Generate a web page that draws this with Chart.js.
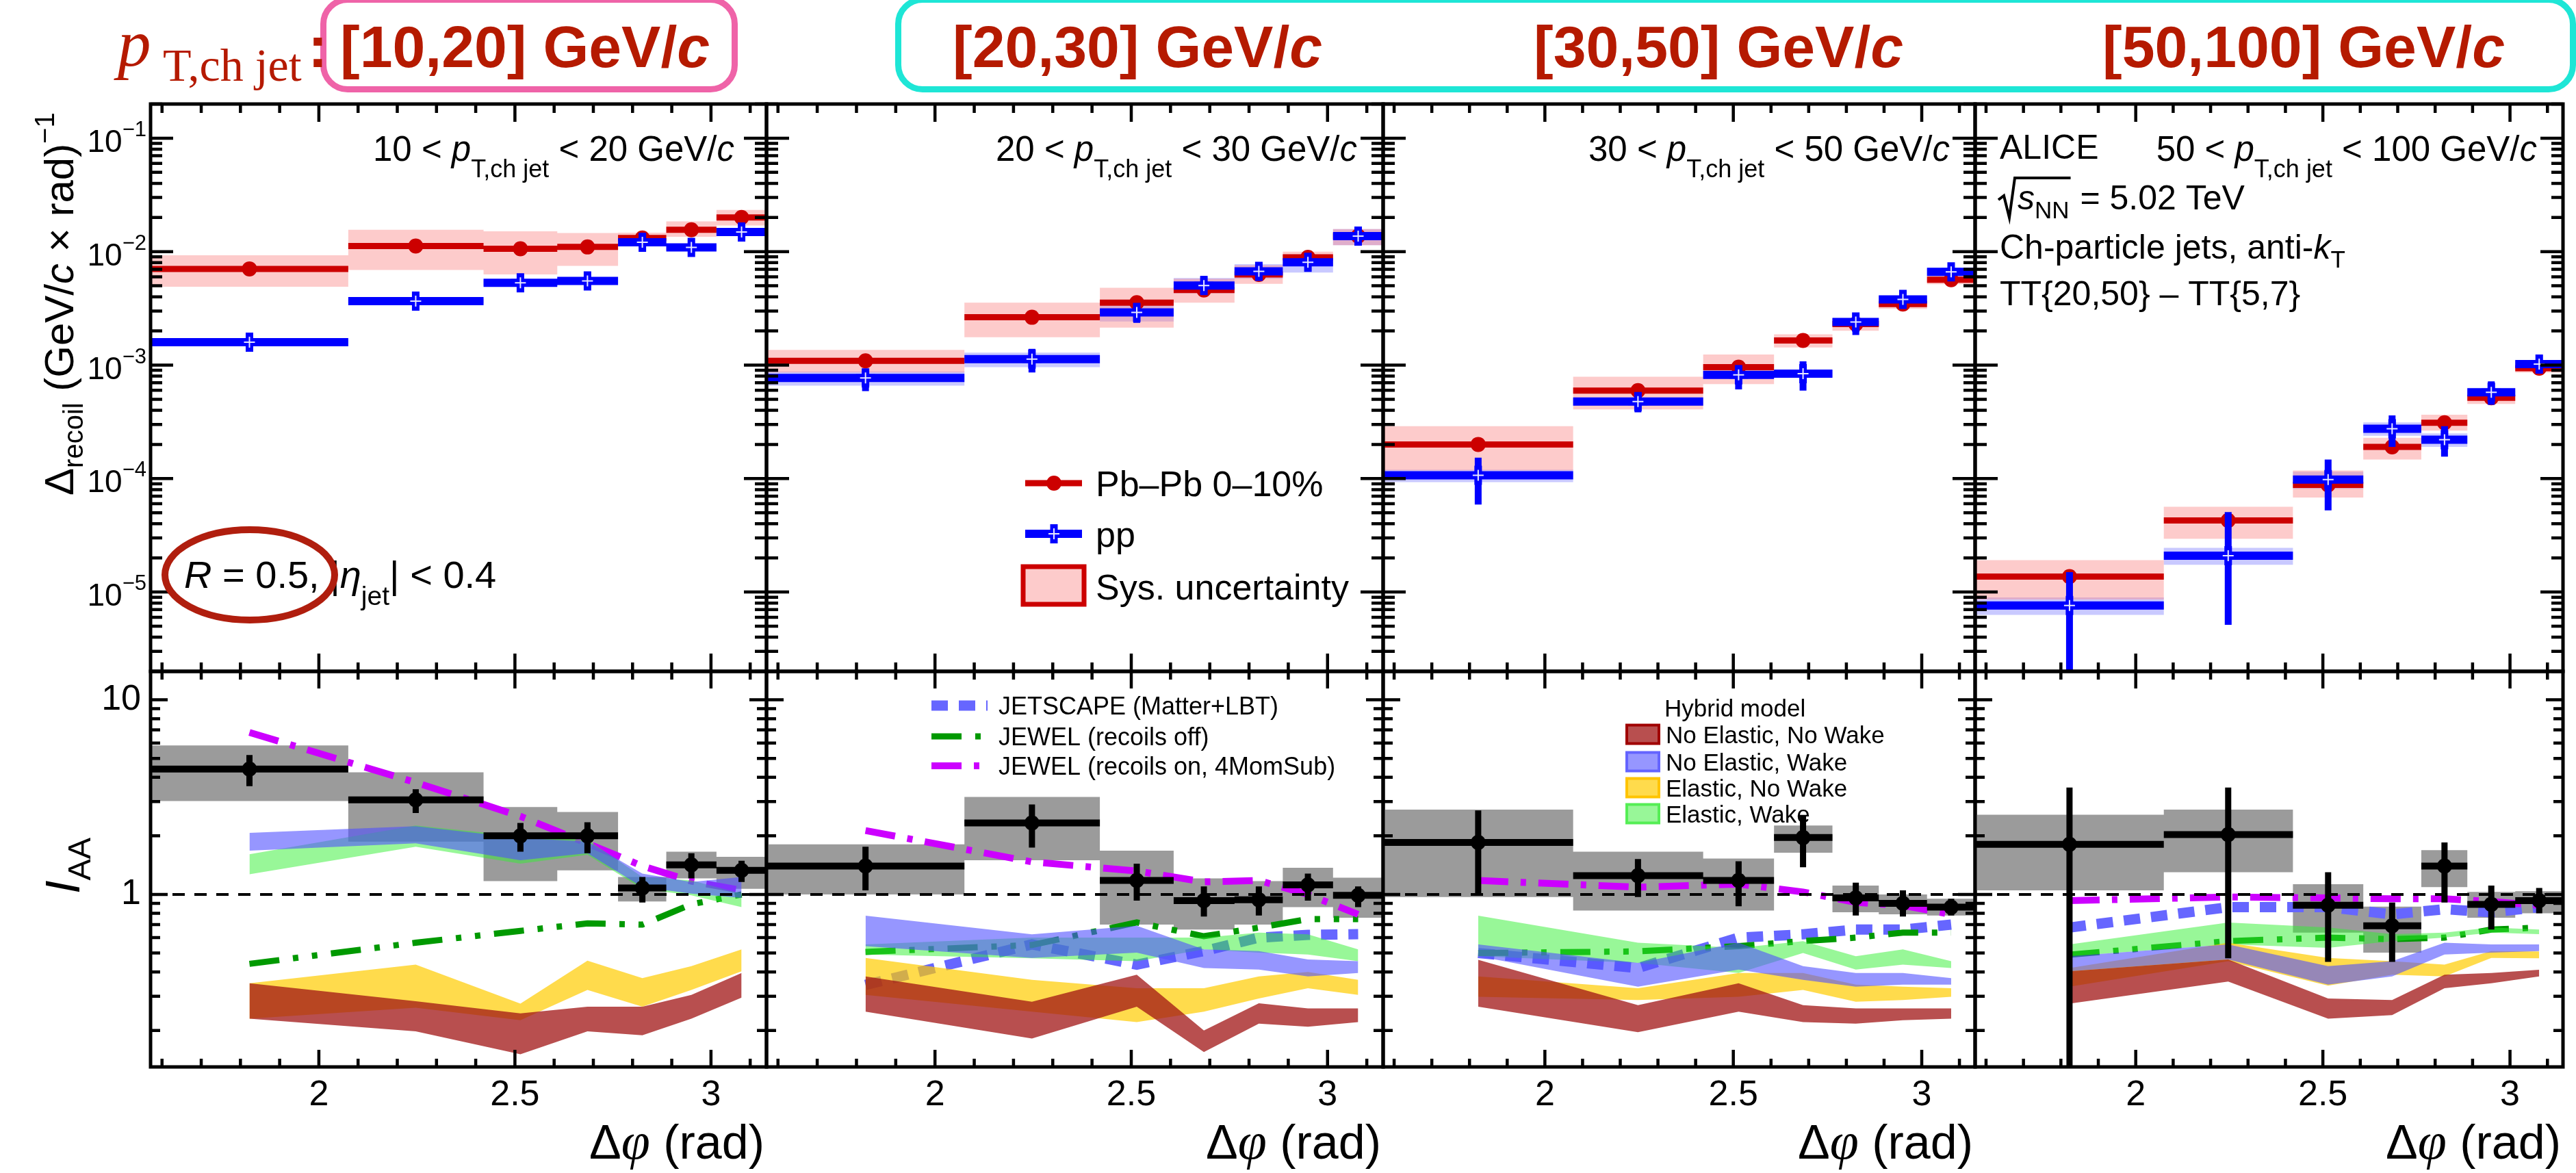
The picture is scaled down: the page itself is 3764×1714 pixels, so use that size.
<!DOCTYPE html>
<html>
<head>
<meta charset="utf-8">
<title>Recoil jet yields and I_AA vs Δφ</title>
<script src="https://cdn.jsdelivr.net/npm/chart.js@4.4.1/dist/chart.umd.min.js"></script>
<style>
  html, body { margin: 0; padding: 0; background: #fff; }
  #page { position: relative; width: 3764px; height: 1714px; overflow: hidden; background: #fff; }
  #page canvas { position: absolute; }
  .hdr { position: absolute; white-space: nowrap; line-height: 1; color: #b51a00; }
  .rbox { position: absolute; box-sizing: border-box; border-radius: 40px; }
</style>
</head>
<body>
<div id="page">
  <div class="rbox" style="left:468px; top:-5px; width:610px; height:140px; border:9px solid #ef63a8;"></div>
  <div class="rbox" style="left:1308px; top:-5px; width:2456px; height:140px; border:9px solid #1ee6d6;"></div>
</div>
<script>
const SANS = '"Liberation Sans", Arial, Helvetica, sans-serif';
const SERIF = '"Liberation Serif", "Times New Roman", serif';
const PI = Math.PI;

// ---------- data ----------
const ptLabels = ['[10,20] GeV/', '[20,30] GeV/', '[30,50] GeV/', '[50,100] GeV/'];
const ptLow = ['10', '20', '30', '50'];
const ptHigh = ['20', '30', '50', '100'];

// delta-phi bins (same for all panels)
const binLo = [1.5708, 2.075, 2.420, 2.608, 2.763, 2.886, 3.014];
const binHi = [2.075, 2.420, 2.608, 2.763, 2.886, 3.014, 3.1416];
const binMid = [1.823, 2.247, 2.514, 2.685, 2.825, 2.950, 3.078];

const xTicks = [2, 2.5, 3];
const xTickLabels = ['2', '2.5', '3'];
const xMinorTicks = [1.6, 1.7, 1.8, 1.9, 2.1, 2.2, 2.3, 2.4, 2.6, 2.7, 2.8, 2.9, 3.1];
const recoilTicks = [1e-1, 1e-2, 1e-3, 1e-4, 1e-5];
const recoilTickExp = ['\u22121', '\u22122', '\u22123', '\u22124', '\u22125'];
const iaaTicks = [1, 10];
const iaaTickLabels = ['1', '10'];
const recoilRange = [2e-6, 0.2];
const iaaRange = [0.13, 14];

// Pb-Pb 0-10%
const pbVal = [
  [7.05e-3, 1.12e-2, 1.06e-2, 1.10e-2, 1.32e-2, 1.56e-2, 2.00e-2],
  [1.09e-3, 2.64e-3, 3.55e-3, 4.60e-3, 6.30e-3, 8.90e-3, 1.37e-2],
  [2.00e-4, 5.97e-4, 9.60e-4, 1.65e-3, 2.30e-3, 3.45e-3, 5.65e-3],
  [1.37e-5, 4.27e-5, 8.80e-5, 1.90e-4, 3.10e-4, 5.15e-4, 9.40e-4]
];
const pbStatLo = [
  [6.7e-3, 1.07e-2, 1.0e-2, 1.05e-2, 1.26e-2, 1.49e-2, 1.9e-2],
  [1.03e-3, 2.5e-3, 3.35e-3, 4.35e-3, 6.0e-3, 8.5e-3, 1.31e-2],
  [1.88e-4, 5.6e-4, 9.0e-4, 1.56e-3, 2.18e-3, 3.28e-3, 5.4e-3],
  [1.25e-5, 4.0e-5, 8.2e-5, 1.78e-4, 2.95e-4, 4.9e-4, 9.0e-4]
];
const pbStatHi = [
  [7.4e-3, 1.17e-2, 1.12e-2, 1.15e-2, 1.38e-2, 1.63e-2, 2.1e-2],
  [1.15e-3, 2.8e-3, 3.75e-3, 4.85e-3, 6.6e-3, 9.3e-3, 1.43e-2],
  [2.12e-4, 6.35e-4, 1.02e-3, 1.74e-3, 2.42e-3, 3.62e-3, 5.9e-3],
  [1.5e-5, 4.55e-5, 9.4e-5, 2.02e-4, 3.25e-4, 5.4e-4, 9.8e-4]
];
const pbSysLo = [
  [4.9e-3, 6.9e-3, 6.3e-3, 7.5e-3, 1.14e-2, 1.35e-2, 1.70e-2],
  [8.6e-4, 1.76e-3, 2.14e-3, 3.55e-3, 5.2e-3, 7.6e-3, 1.14e-2],
  [1.18e-4, 4.07e-4, 6.8e-4, 1.43e-3, 2.01e-3, 3.13e-3, 5.17e-3],
  [8.6e-6, 2.95e-5, 6.8e-5, 1.47e-4, 2.65e-4, 4.55e-4, 8.6e-4]
];
const pbSysHi = [
  [9.3e-3, 1.56e-2, 1.51e-2, 1.46e-2, 1.47e-2, 1.85e-2, 2.33e-2],
  [1.36e-3, 3.55e-3, 4.8e-3, 5.78e-3, 7.6e-3, 1.0e-2, 1.58e-2],
  [2.9e-4, 7.9e-4, 1.24e-3, 1.87e-3, 2.59e-3, 3.9e-3, 6.16e-3],
  [1.91e-5, 5.65e-5, 1.18e-4, 2.29e-4, 3.65e-4, 5.97e-4, 1.04e-3]
];

// pp reference
const ppVal = [
  [1.59e-3, 3.66e-3, 5.32e-3, 5.52e-3, 1.21e-2, 1.09e-2, 1.49e-2],
  [7.7e-4, 1.13e-3, 2.91e-3, 5.03e-3, 6.7e-3, 8.05e-3, 1.37e-2],
  [1.07e-4, 4.78e-4, 8.2e-4, 8.4e-4, 2.4e-3, 3.79e-3, 6.64e-3],
  [7.6e-6, 2.09e-5, 9.8e-5, 2.75e-4, 2.2e-4, 5.75e-4, 1.02e-3]
];
const ppStatLo = [
  [1.5e-3, 3.45e-3, 5.0e-3, 5.2e-3, 1.14e-2, 1.02e-2, 1.4e-2],
  [5.9e-4, 8.6e-4, 2.36e-3, 4.2e-3, 5.6e-3, 6.8e-3, 1.14e-2],
  [5.9e-5, 3.84e-4, 6.1e-4, 5.97e-4, 1.84e-3, 3.2e-3, 5.6e-3],
  [1e-7, 5.15e-6, 5.25e-5, 1.9e-4, 1.56e-4, 4.47e-4, 8.6e-4]
];
const ppStatHi = [
  [1.7e-3, 3.9e-3, 5.65e-3, 5.85e-3, 1.28e-2, 1.16e-2, 1.58e-2],
  [9.3e-4, 1.39e-3, 3.45e-3, 6.1e-3, 7.9e-3, 9.5e-3, 1.65e-2],
  [1.53e-4, 5.75e-4, 1.0e-3, 1.08e-3, 2.65e-3, 4.3e-3, 7.6e-3],
  [1.5e-5, 5.06e-5, 1.47e-4, 3.6e-4, 2.9e-4, 7.2e-4, 1.23e-3]
];
const ppSysLo = [
  [1.52e-3, 3.5e-3, 5.05e-3, 5.25e-3, 1.15e-2, 1.03e-2, 1.41e-2],
  [6.6e-4, 9.6e-4, 2.42e-3, 4.3e-3, 5.78e-3, 6.55e-3, 1.14e-2],
  [9.3e-5, 4.4e-4, 7.6e-4, 7.8e-4, 2.2e-3, 3.5e-3, 6.1e-3],
  [6.3e-6, 1.74e-5, 8.1e-5, 2.38e-4, 1.9e-4, 5.3e-4, 9.5e-4]
];
const ppSysHi = [
  [1.67e-3, 3.85e-3, 5.6e-3, 5.8e-3, 1.27e-2, 1.15e-2, 1.57e-2],
  [8.8e-4, 1.29e-3, 3.45e-3, 5.86e-3, 7.76e-3, 9.46e-3, 1.58e-2],
  [1.2e-4, 5.2e-4, 8.9e-4, 9.0e-4, 2.6e-3, 4.1e-3, 7.2e-3],
  [8.95e-6, 2.45e-5, 1.15e-4, 3.13e-4, 2.5e-4, 6.3e-4, 1.1e-3]
];

// I_AA
const iaaVal = [
  [4.41, 3.06, 2.0, 2.0, 1.08, 1.42, 1.33],
  [1.40, 2.33, 1.18, 0.93, 0.94, 1.12, 0.99],
  [1.85, 1.25, 1.18, 1.96, 0.96, 0.90, 0.86],
  [1.81, 2.03, 0.88, 0.69, 1.40, 0.89, 0.93]
];
const iaaStatLo = [
  [3.6, 2.62, 1.66, 1.63, 0.91, 1.21, 1.16],
  [1.05, 1.74, 0.93, 0.77, 0.78, 0.93, 0.86],
  [1.0, 0.97, 0.87, 1.38, 0.78, 0.77, 0.78],
  [0.01, 0.47, 0.45, 0.45, 0.91, 0.66, 0.80]
];
const iaaStatHi = [
  [5.2, 3.47, 2.33, 2.35, 1.23, 1.63, 1.49],
  [1.76, 2.90, 1.44, 1.10, 1.10, 1.28, 1.10],
  [2.70, 1.52, 1.48, 2.55, 1.15, 1.05, 0.95],
  [3.54, 3.54, 1.30, 0.91, 1.85, 1.11, 1.08]
];
const iaaSysLo = [
  [3.02, 1.87, 1.17, 1.33, 0.92, 1.21, 1.07],
  [1.0, 1.50, 0.70, 0.66, 0.70, 0.86, 0.76],
  [0.97, 0.826, 0.826, 1.64, 0.81, 0.79, 0.78],
  [1.05, 1.30, 0.637, 0.502, 1.09, 0.76, 0.80]
];
const iaaSysHi = [
  [5.83, 4.24, 2.81, 2.65, 1.23, 1.66, 1.56],
  [1.81, 3.17, 1.68, 1.21, 1.17, 1.37, 1.22],
  [2.73, 1.66, 1.53, 2.26, 1.11, 1.0, 0.95],
  [2.57, 2.73, 1.13, 0.866, 1.69, 1.03, 1.04]
];

// model curves (at bin centres)
const jetscape = [
  null,
  [0.343, 0.554, 0.436, 0.512, 0.60, 0.62, 0.625],
  [0.50, 0.419, 0.60, 0.624, 0.66, 0.66, 0.70],
  [0.676, 0.86, 0.86, 0.79, 0.84, 0.81, 0.86]
];
const jewelOff = [
  [0.44, 0.565, 0.65, 0.71, 0.70, 0.89, 1.0],
  [0.507, 0.55, 0.718, 0.61, 0.676, 0.747, 0.747],
  [0.50, 0.51, 0.543, 0.576, 0.60, 0.637, 0.637],
  [0.49, 0.576, 0.60, 0.59, 0.60, 0.66, 0.676]
];
const jewelOn = [
  [6.8, 3.76, 2.52, 1.83, 1.40, 1.17, 1.05],
  [2.13, 1.47, 1.32, 1.16, 1.18, 1.0, 0.79],
  [1.18, 1.09, 1.13, 1.03, 0.91, 0.877, 0.79],
  [0.93, 0.97, 0.96, 0.95, 0.95, 0.92, 0.88]
];

// hybrid model bands
const hybNoElNoWakeLo = [
  [0.23, 0.198, 0.151, 0.198, 0.189, 0.23, 0.295],
  [0.25, 0.182, 0.265, 0.155, 0.217, 0.209, 0.221],
  [0.265, 0.196, 0.25, 0.221, 0.217, 0.226, 0.23],
  [0.275, 0.357, 0.23, 0.24, 0.33, 0.35, 0.379]
];
const hybNoElNoWakeHi = [
  [0.35, 0.283, 0.245, 0.265, 0.265, 0.305, 0.395],
  [0.379, 0.281, 0.387, 0.2, 0.276, 0.26, 0.26],
  [0.462, 0.27, 0.35, 0.27, 0.26, 0.26, 0.26],
  [0.403, 0.463, 0.292, 0.287, 0.387, 0.395, 0.41]
];
const hybNoElWakeLo = [
  [1.68, 1.83, 1.50, 1.63, 1.09, 1.01, 0.96],
  [0.543, 0.472, 0.502, 0.419, 0.411, 0.379, 0.395],
  [0.482, 0.336, 0.411, 0.364, 0.336, 0.344, 0.344],
  [0.403, 0.463, 0.344, 0.379, 0.491, 0.502, 0.512]
];
const hybNoElWakeHi = [
  [2.07, 2.24, 1.95, 1.87, 1.28, 1.16, 1.23],
  [0.778, 0.624, 0.69, 0.522, 0.512, 0.463, 0.454],
  [0.554, 0.445, 0.565, 0.428, 0.395, 0.395, 0.372],
  [0.482, 0.554, 0.428, 0.454, 0.565, 0.554, 0.554]
];
const hybElNoWakeLo = [
  [0.23, 0.262, 0.226, 0.323, 0.265, 0.323, 0.403],
  [0.305, 0.25, 0.221, 0.25, 0.292, 0.33, 0.305],
  [0.298, 0.287, 0.298, 0.323, 0.281, 0.287, 0.298],
  [0.336, 0.454, 0.34, 0.387, 0.379, 0.472, 0.47]
];
const hybElNoWakeHi = [
  [0.35, 0.436, 0.275, 0.457, 0.372, 0.428, 0.522],
  [0.472, 0.364, 0.33, 0.33, 0.379, 0.40, 0.364],
  [0.379, 0.33, 0.395, 0.395, 0.344, 0.336, 0.33],
  [0.419, 0.565, 0.472, 0.454, 0.436, 0.512, 0.51]
];
const hybElWakeLo = [
  [1.27, 1.76, 1.44, 1.6, 1.07, 0.99, 0.86],
  [0.491, 0.47, 0.454, 0.522, 0.502, 0.491, 0.454],
  [0.482, 0.445, 0.395, 0.5, 0.411, 0.436, 0.419],
  [0.482, 0.554, 0.532, 0.576, 0.60, 0.637, 0.625]
];
const hybElWakeHi = [
  [1.61, 2.26, 1.99, 1.91, 1.23, 1.18, 1.01],
  [0.554, 0.60, 0.60, 0.60, 0.637, 0.624, 0.522],
  [0.778, 0.565, 0.532, 0.576, 0.482, 0.522, 0.454],
  [0.554, 0.718, 0.676, 0.625, 0.637, 0.676, 0.66]
];

const modelNames = ['JETSCAPE (Matter+LBT)', 'JEWEL (recoils off)', 'JEWEL (recoils on, 4MomSub)'];
const hybridNames = ['No Elastic, No Wake', 'No Elastic, Wake', 'Elastic, No Wake', 'Elastic, Wake'];

// ---------- styles / layout ----------
const W = 3764, H = 1714;
const PANEL_X = [[220, 1120], [1120, 2021], [2021, 2886], [2886, 3745]];
const ROW_Y = [[152, 981], [981, 1559]];
const PAD = 14;
const PHI_MIN = 1.5708, PHI_MAX = 3.1416;
const rangeLabelRight = [1073, 1983, 2849, 3707];

const PB_RED = '#cc0000', PB_SYS = 'rgba(250,140,140,0.45)';
const PP_BLUE = '#0000ff', PP_SYS = 'rgba(90,90,255,0.33)';
const GREY = '#9b9b9b';
const BAND_RED = 'rgba(160,20,20,0.75)', BAND_BLUE = 'rgba(80,80,255,0.6)';
const BAND_YELLOW = 'rgba(255,204,0,0.7)', BAND_GREEN = 'rgba(50,240,50,0.5)';
const bandEdge = ['#a00000', '#6464ff', '#ffc400', '#55ee55'];
const bandFill = [BAND_RED, BAND_BLUE, BAND_YELLOW, BAND_GREEN];
const modelStyle = [
  { c: '#6666ff', w: 15, d: [24, 16] },
  { c: '#009900', w: 9, d: [44, 20, 8, 20, 8, 20] },
  { c: '#cc00ff', w: 10, d: [44, 18, 8, 18] }
];

const page = document.getElementById('page');

// ---------- header (html text) ----------
function hdrText(html, left, base, size, family, style, weight) {
  const d = document.createElement('div');
  d.className = 'hdr';
  d.innerHTML = html;
  d.style.left = left + 'px';
  d.style.fontFamily = family;
  d.style.fontSize = size + 'px';
  d.style.fontStyle = style || 'normal';
  d.style.fontWeight = weight || 'normal';
  const asc = family === SERIF ? 0.8375 : 0.8465;
  d.style.top = (base - asc * size) + 'px';
  page.appendChild(d);
}
hdrText('p', 172, 96, 97, SERIF, 'italic');
hdrText('T,ch jet', 238, 118, 68, SERIF);
hdrText(':', 450, 98, 86, SANS, 'normal', 'bold');
const ptTitleX = [497, 1392, 2241, 3072];
ptLabels.forEach((t, i) => hdrText(t + '<i>c</i>', ptTitleX[i], 98, 86, SANS, 'normal', 'bold'));

// ---------- canvas helpers ----------
function fontOf(p) {
  return (p.st || 'normal') + ' ' + (p.w || 'normal') + ' ' + p.s + 'px ' + (p.f || SANS);
}
function rich(ctx, x, y, parts, align) {
  let total = 0;
  parts.forEach(p => { ctx.font = fontOf(p); p.width = ctx.measureText(p.t).width; total += p.width; });
  let cx = align === 'right' ? x - total : (align === 'center' ? x - total / 2 : x);
  parts.forEach(p => {
    ctx.font = fontOf(p);
    ctx.fillStyle = p.c || '#000';
    ctx.fillText(p.t, cx, y + (p.dy || 0));
    cx += p.width;
  });
  return total;
}
function seg(ctx, x0, y0, x1, y1) {
  ctx.beginPath(); ctx.moveTo(x0, y0); ctx.lineTo(x1, y1); ctx.stroke();
}

// ---------- dataset builders ----------
function pts(xs, ys) { return xs.map((x, i) => ({ x: x, y: ys[i] })); }

function hBars(vals, color, width) {
  const data = [];
  vals.forEach((v, i) => { data.push({ x: binLo[i], y: v }, { x: binHi[i], y: v }, { x: binHi[i], y: null }); });
  return { data, borderColor: color, borderWidth: width, pointRadius: 0, spanGaps: false, fill: false };
}
function vBars(lo, hi, color, width) {
  const data = [];
  binMid.forEach((x, i) => { data.push({ x, y: lo[i] }, { x, y: hi[i] }, { x, y: null }); });
  return { data, borderColor: color, borderWidth: width, pointRadius: 0, spanGaps: false, fill: false };
}
function marks(vals, style) {
  return Object.assign({ data: pts(binMid, vals), showLine: false, pointHitRadius: 0, fill: false }, style);
}
function sysBox(lo, hi, color) {
  const edge = vals => pts(binLo, vals).concat([{ x: binHi[binHi.length - 1], y: vals[vals.length - 1] }]);
  const base = { stepped: 'before', borderColor: 'rgba(0,0,0,0)', borderWidth: 0, pointRadius: 0 };
  return [
    Object.assign({ data: edge(lo), fill: false }, base),
    Object.assign({ data: edge(hi), fill: '-1', backgroundColor: color }, base)
  ];
}
function band(lo, hi, color) {
  const base = { borderColor: 'rgba(0,0,0,0)', borderWidth: 0, pointRadius: 0 };
  return [
    Object.assign({ data: pts(binMid, lo), fill: false }, base),
    Object.assign({ data: pts(binMid, hi), fill: '-1', backgroundColor: color }, base)
  ];
}
function model(vals, st) {
  return { data: pts(binMid, vals), borderColor: st.c, borderWidth: st.w, borderDash: st.d, pointRadius: 0, fill: false };
}

const redDot = { pointStyle: 'circle', pointRadius: 11, pointBackgroundColor: PB_RED, pointBorderColor: PB_RED, pointBorderWidth: 0 };
const blueCross = { pointStyle: 'cross', pointRadius: 14, pointBorderColor: PP_BLUE, pointBorderWidth: 11 };
const whiteCross = { pointStyle: 'cross', pointRadius: 8, pointBorderColor: '#e8e8ff', pointBorderWidth: 2 };
const blackDot = { pointStyle: 'circle', pointRadius: 11, pointBackgroundColor: '#000', pointBorderColor: '#000', pointBorderWidth: 0 };

function topDatasets(p) {
  return [
    ...sysBox(ppSysLo[p], ppSysHi[p], PP_SYS),
    ...sysBox(pbSysLo[p], pbSysHi[p], PB_SYS),
    vBars(pbStatLo[p], pbStatHi[p], PB_RED, 8),
    hBars(pbVal[p], PB_RED, 9),
    marks(pbVal[p], redDot),
    hBars(ppVal[p], PP_BLUE, 12),
    vBars(ppStatLo[p], ppStatHi[p], PP_BLUE, 10),
    marks(ppVal[p], blueCross),
    marks(ppVal[p], whiteCross)
  ];
}
function botDatasets(p) {
  const ds = [...sysBox(iaaSysLo[p], iaaSysHi[p], GREY)];
  if (jetscape[p]) ds.push(model(jetscape[p], modelStyle[0]));
  ds.push(model(jewelOff[p], modelStyle[1]));
  ds.push(model(jewelOn[p], modelStyle[2]));
  ds.push(...band(hybElWakeLo[p], hybElWakeHi[p], BAND_GREEN));
  ds.push(...band(hybElNoWakeLo[p], hybElNoWakeHi[p], BAND_YELLOW));
  ds.push(...band(hybNoElWakeLo[p], hybNoElWakeHi[p], BAND_BLUE));
  ds.push(...band(hybNoElNoWakeLo[p], hybNoElNoWakeHi[p], BAND_RED));
  ds.push({ data: [{ x: PHI_MIN, y: 1 }, { x: PHI_MAX, y: 1 }], borderColor: '#000', borderWidth: 4, borderDash: [18, 14], pointRadius: 0, fill: false });
  ds.push(vBars(iaaStatLo[p], iaaStatHi[p], '#000', 9));
  ds.push(hBars(iaaVal[p], '#000', 10));
  ds.push(marks(iaaVal[p], blackDot));
  return ds;
}

// ---------- plugins ----------
function framePlugin(row) {
  const L = row === 0 ? { xM: 26, xm: 13, yM: 33, ym: 17 } : { xM: 25, xm: 12, yM: 25, ym: 14 };
  return {
    id: 'rootFrame',
    afterDatasetsDraw(chart) {
      const { ctx, chartArea: a } = chart;
      const xs = chart.scales.x, ys = chart.scales.y;
      ctx.save();
      ctx.strokeStyle = '#000';
      ctx.lineWidth = 4.5;
      ctx.setLineDash([]);
      ctx.beginPath();
      const xt = (v, len) => {
        const p = xs.getPixelForValue(v);
        ctx.moveTo(p, a.bottom); ctx.lineTo(p, a.bottom - len);
        ctx.moveTo(p, a.top); ctx.lineTo(p, a.top + len);
      };
      const yt = (v, len) => {
        const p = ys.getPixelForValue(v);
        ctx.moveTo(a.left, p); ctx.lineTo(a.left + len, p);
        ctx.moveTo(a.right, p); ctx.lineTo(a.right - len, p);
      };
      xTicks.forEach(v => xt(v, L.xM));
      xMinorTicks.forEach(v => xt(v, L.xm));
      const e0 = Math.floor(Math.log10(ys.min)), e1 = Math.ceil(Math.log10(ys.max));
      for (let e = e0; e <= e1; e++) {
        for (let k = 1; k <= 9; k++) {
          const v = k * Math.pow(10, e);
          if (v < ys.min || v > ys.max) continue;
          yt(v, k === 1 ? L.yM : L.ym);
        }
      }
      ctx.stroke();
      ctx.lineWidth = 5;
      ctx.strokeRect(a.left, a.top, a.right - a.left, a.bottom - a.top);
      ctx.restore();
    }
  };
}
function overlayPlugin(ox, oy, draw) {
  return {
    id: 'overlay',
    afterDraw(chart) {
      const ctx = chart.ctx;
      ctx.save();
      ctx.translate(-ox, -oy);
      ctx.textAlign = 'left';
      ctx.textBaseline = 'alphabetic';
      ctx.setLineDash([]);
      draw(ctx, chart, ox, oy);
      ctx.restore();
    }
  };
}

// ---------- overlays (page coordinates) ----------
function topOverlay(col) {
  return function (ctx, chart, ox, oy) {
    rich(ctx, rangeLabelRight[col], 235, [
      { t: ptLow[col] + ' < ', s: 51 }, { t: 'p', s: 51, st: 'italic' }, { t: 'T,ch jet', s: 36, dy: 24 },
      { t: ' < ' + ptHigh[col] + ' GeV/', s: 51 }, { t: 'c', s: 51, st: 'italic' }
    ], 'right');

    if (col === 0) {
      const ys = chart.scales.y;
      recoilTicks.forEach((v, i) => {
        const py = ys.getPixelForValue(v) + oy;
        rich(ctx, 214, py + 20, [{ t: '10', s: 46 }, { t: recoilTickExp[i], s: 31, dy: -23 }], 'right');
      });
      ctx.save();
      ctx.translate(107, 724);
      ctx.rotate(-PI / 2);
      rich(ctx, 0, 0, [
        { t: '\u0394', s: 60 }, { t: 'recoil', s: 40, dy: 14 }, { t: ' (GeV/', s: 60 }, { t: 'c', s: 60, st: 'italic' },
        { t: ' \u00d7 rad)', s: 60 }, { t: '\u22121', s: 40, dy: -28 }
      ], 'left');
      ctx.restore();
      rich(ctx, 269, 859, [
        { t: 'R', s: 56, st: 'italic' }, { t: ' = 0.5, |', s: 56 }, { t: '\u03b7', s: 56, st: 'italic' },
        { t: 'jet', s: 39, dy: 25 }, { t: '| < 0.4', s: 56 }
      ], 'left');
      ctx.strokeStyle = '#b01e0e';
      ctx.lineWidth = 10;
      ctx.beginPath();
      ctx.ellipse(365, 840, 124, 66, 0, 0, 2 * PI);
      ctx.stroke();
    }

    if (col === 1) {
      const lx0 = 1498, lx1 = 1581, lc = 1540, tx = 1601;
      ctx.strokeStyle = PB_RED; ctx.lineWidth = 9; seg(ctx, lx0, 706, lx1, 706);
      ctx.fillStyle = PB_RED; ctx.beginPath(); ctx.arc(lc, 706, 11, 0, 2 * PI); ctx.fill();
      rich(ctx, tx, 725, [{ t: 'Pb\u2013Pb 0\u201310%', s: 52 }], 'left');
      ctx.strokeStyle = PP_BLUE; ctx.lineWidth = 12; seg(ctx, lx0, 780, lx1, 780);
      ctx.lineWidth = 11; seg(ctx, lc - 14, 780, lc + 14, 780); seg(ctx, lc, 766, lc, 794);
      ctx.strokeStyle = '#e8e8ff'; ctx.lineWidth = 2; seg(ctx, lc - 8, 780, lc + 8, 780); seg(ctx, lc, 772, lc, 788);
      rich(ctx, tx, 799, [{ t: 'pp', s: 52 }], 'left');
      ctx.fillStyle = 'rgba(250,140,140,0.45)'; ctx.fillRect(1495, 828, 89, 55);
      ctx.strokeStyle = PB_RED; ctx.lineWidth = 7; ctx.strokeRect(1495, 828, 89, 55);
      rich(ctx, tx, 876, [{ t: 'Sys. uncertainty', s: 52 }], 'left');
    }

    if (col === 3) {
      rich(ctx, 2922, 232, [{ t: 'ALICE', s: 50 }], 'left');
      const sw = rich(ctx, 2948, 306, [{ t: 's', s: 50, st: 'italic' }, { t: 'NN', s: 35, dy: 13 }], 'left');
      ctx.strokeStyle = '#000'; ctx.lineWidth = 4;
      ctx.beginPath();
      ctx.moveTo(2920, 292); ctx.lineTo(2928, 286); ctx.lineTo(2936, 318); ctx.lineTo(2944, 260); ctx.lineTo(2950 + sw, 260);
      ctx.stroke();
      rich(ctx, 2950 + sw, 306, [{ t: ' = 5.02 TeV', s: 50 }], 'left');
      rich(ctx, 2922, 378, [{ t: 'Ch-particle jets, anti-', s: 50 }, { t: 'k', s: 50, st: 'italic' }, { t: 'T', s: 35, dy: 13 }], 'left');
      rich(ctx, 2922, 446, [{ t: 'TT{20,50} \u2013 TT{5,7}', s: 50 }], 'left');
    }
  };
}

function botOverlay(col) {
  return function (ctx, chart, ox, oy) {
    rich(ctx, PANEL_X[col][1] - 3, 1693, [
      { t: '\u0394', s: 70 }, { t: '\u03c6', s: 76, st: 'italic', f: SERIF }, { t: ' (rad)', s: 70 }
    ], 'right');

    if (col === 0) {
      ctx.save();
      ctx.translate(116, 1265);
      ctx.rotate(-PI / 2);
      rich(ctx, 0, 0, [{ t: 'I', s: 70, st: 'italic' }, { t: 'AA', s: 47, dy: 16 }], 'center');
      ctx.restore();
    }

    if (col === 1) {
      const rows = [1031, 1076, 1119];
      modelNames.forEach((name, i) => {
        const st = modelStyle[i];
        ctx.strokeStyle = st.c; ctx.lineWidth = st.w; ctx.setLineDash(st.d);
        seg(ctx, 1361, rows[i], 1443, rows[i]);
        ctx.setLineDash([]);
        rich(ctx, 1459, rows[i] + 13, [{ t: name, s: 36 }], 'left');
      });
    }

    if (col === 2) {
      rich(ctx, 2432, 1047, [{ t: 'Hybrid model', s: 35 }], 'left');
      const rows = [1073, 1113, 1151, 1189];
      hybridNames.forEach((name, i) => {
        ctx.fillStyle = bandFill[i]; ctx.fillRect(2377, rows[i] - 13.5, 47, 27);
        ctx.strokeStyle = bandEdge[i]; ctx.lineWidth = 4; ctx.strokeRect(2377, rows[i] - 13.5, 47, 27);
        rich(ctx, 2434, rows[i] + 13, [{ t: name, s: 35 }], 'left');
      });
    }
  };
}

// ---------- panels ----------
function noEdgePadding(s) {
  s.paddingTop = 0; s.paddingBottom = 0; s.paddingLeft = 0; s.paddingRight = 0;
}

function buildPanel(row, col, datasets, drawExtra) {
  const [x0, x1] = PANEL_X[col];
  const [y0, y1] = ROW_Y[row];
  const left = col === 0 ? 0 : x0 - PAD;
  const top = y0 - PAD;
  const right = x1 + PAD;
  const bottom = row === 1 ? H : y1 + PAD;
  const cv = document.createElement('canvas');
  cv.width = right - left;
  cv.height = bottom - top;
  cv.style.left = left + 'px';
  cv.style.top = top + 'px';
  cv.style.width = cv.width + 'px';
  cv.style.height = cv.height + 'px';
  page.appendChild(cv);

  datasets.forEach((d, i) => { d.order = datasets.length - i; d.clip = 0; });
  const showY = row === 1 && col === 0;
  const showX = row === 1;

  new Chart(cv, {
    type: 'line',
    data: { datasets },
    options: {
      responsive: false,
      maintainAspectRatio: false,
      animation: false,
      devicePixelRatio: 1,
      events: [],
      layout: {
        autoPadding: false,
        padding: { left: col === 0 ? (showY ? 0 : x0) : PAD, right: PAD, top: PAD, bottom: showX ? 0 : PAD }
      },
      plugins: { legend: { display: false }, tooltip: { enabled: false }, title: { display: false } },
      scales: {
        x: {
          type: 'linear', min: PHI_MIN, max: PHI_MAX, display: showX,
          grid: { display: false, drawTicks: false }, border: { display: false },
          afterFit: s => { s.height = showX ? H - y1 : 0; noEdgePadding(s); },
          afterBuildTicks: s => { s.ticks = xTicks.map(v => ({ value: v })); },
          ticks: {
            padding: 10, maxRotation: 0, autoSkip: false, color: '#000',
            font: { family: SANS, size: 52 },
            callback: v => xTickLabels[xTicks.indexOf(v)]
          }
        },
        y: {
          type: 'logarithmic',
          min: row === 0 ? recoilRange[0] : iaaRange[0],
          max: row === 0 ? recoilRange[1] : iaaRange[1],
          display: showY,
          grid: { display: false, drawTicks: false }, border: { display: false },
          afterFit: s => { s.width = showY ? x0 : 0; noEdgePadding(s); },
          afterBuildTicks: s => { s.ticks = iaaTicks.map(v => ({ value: v })); },
          ticks: {
            padding: 14, color: '#000',
            font: { family: SANS, size: 52 },
            callback: v => iaaTickLabels[iaaTicks.indexOf(v)]
          }
        }
      }
    },
    plugins: [framePlugin(row), overlayPlugin(left, top, drawExtra)]
  });
}

for (let c = 0; c < 4; c++) {
  buildPanel(0, c, topDatasets(c), topOverlay(c));
  buildPanel(1, c, botDatasets(c), botOverlay(c));
}
</script>
</body>
</html>
